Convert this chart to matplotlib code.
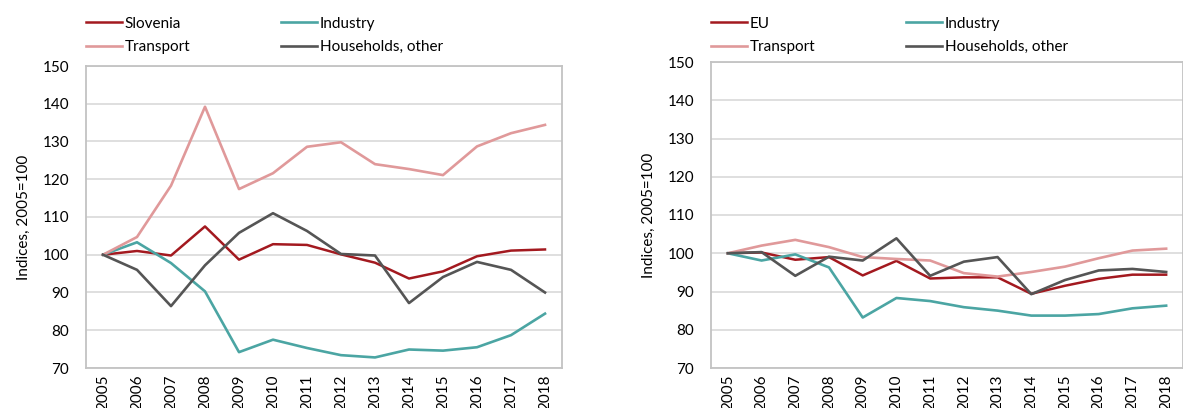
"""Energy consumption by sector, Slovenia vs EU (indices, 2005=100)."""

import matplotlib
matplotlib.use("Agg")
import matplotlib.pyplot as plt

plt.rcParams["font.family"] = ["Lato", "DejaVu Sans"]

YEARS = [str(y) for y in range(2005, 2019)]

# Slovenia panel
SI_TOTAL = [100, 101.0, 99.8, 107.5, 98.7, 102.8, 102.6, 100.1, 97.9, 93.7, 95.6, 99.6, 101.1, 101.4]
SI_INDUSTRY = [100, 103.3, 97.8, 90.3, 74.2, 77.5, 75.3, 73.4, 72.8, 74.9, 74.6, 75.5, 78.7, 84.4]
SI_TRANSPORT = [100, 104.7, 118.3, 139.2, 117.4, 121.6, 128.6, 129.8, 124.0, 122.7, 121.1, 128.7, 132.2, 134.4]
SI_HOUSEHOLDS = [100, 96.0, 86.4, 97.2, 105.8, 111.0, 106.3, 100.2, 99.8, 87.2, 94.1, 98.1, 96.0, 90.0]

# EU panel
EU_TOTAL = [100, 100.2, 98.3, 99.0, 94.2, 98.0, 93.4, 93.7, 93.7, 89.4, 91.5, 93.3, 94.4, 94.4]
EU_INDUSTRY = [100, 98.1, 99.7, 96.3, 83.2, 88.3, 87.5, 85.9, 85.0, 83.7, 83.7, 84.1, 85.6, 86.3]
EU_TRANSPORT = [100, 102.0, 103.5, 101.6, 99.0, 98.5, 98.1, 94.8, 93.9, 95.1, 96.5, 98.7, 100.7, 101.2]
EU_HOUSEHOLDS = [100, 100.3, 94.1, 99.1, 98.1, 103.9, 94.1, 97.8, 99.0, 89.3, 93.0, 95.5, 95.9, 95.1]

COLORS = {
    "total": "#a3191f",
    "industry": "#4ba5a3",
    "transport": "#e0999a",
    "households": "#555555",
}
GRID = "#d6d6d6"
FS = 11
W, H = 1183, 408


def draw_panel(fig, ax, total, industry, transport, households, total_label):
    x = range(len(YEARS))
    h_tot, = ax.plot(x, total, color=COLORS["total"], lw=1.8, label=total_label)
    h_ind, = ax.plot(x, industry, color=COLORS["industry"], lw=1.9, label="Industry")
    h_tra, = ax.plot(x, transport, color=COLORS["transport"], lw=1.9, label="Transport")
    h_hou, = ax.plot(x, households, color=COLORS["households"], lw=1.9, label="Households, other")

    ax.set_xlim(-0.5, len(YEARS) - 0.5)
    ax.set_ylim(70, 150)
    ax.set_yticks(range(70, 151, 10))
    ax.set_xticks(list(x))
    ax.set_xticklabels(YEARS, rotation=90, fontsize=FS)
    ax.tick_params(axis="y", labelsize=FS, length=0, pad=12)
    ax.tick_params(axis="x", length=0, pad=5)
    ax.grid(axis="y", color=GRID, lw=1.1)
    ax.set_axisbelow(True)
    for spine in ax.spines.values():
        spine.set_color("#c3c3c3")
        spine.set_linewidth(1.3)

    ax.set_ylabel("Indices, 2005=100", fontsize=FS)
    ax.yaxis.set_label_coords(-0.116, 0.5)

    # matplotlib fills legend columns first, so order handles for row layout
    x0 = ax.get_position().x0
    ax.legend(
        [h_tot, h_tra, h_ind, h_hou],
        [total_label, "Transport", "Industry", "Households, other"],
        ncol=2, loc="lower left", bbox_to_anchor=(x0, (H - 54) / H),
        bbox_transform=fig.transFigure, frameon=False,
        fontsize=FS, handlelength=2.35, handletextpad=0.2,
        columnspacing=5.9, labelspacing=0.62, borderaxespad=0, borderpad=0,
    )


fig = plt.figure(figsize=(W / 100, H / 100), dpi=100)
ax_si = fig.add_axes([86 / W, 40 / H, 476 / W, 302 / H])
ax_eu = fig.add_axes([711 / W, 40 / H, 472 / W, 306 / H])

draw_panel(fig, ax_si, SI_TOTAL, SI_INDUSTRY, SI_TRANSPORT, SI_HOUSEHOLDS, "Slovenia")
draw_panel(fig, ax_eu, EU_TOTAL, EU_INDUSTRY, EU_TRANSPORT, EU_HOUSEHOLDS, "EU")

fig.savefig("out.png", dpi=100)
